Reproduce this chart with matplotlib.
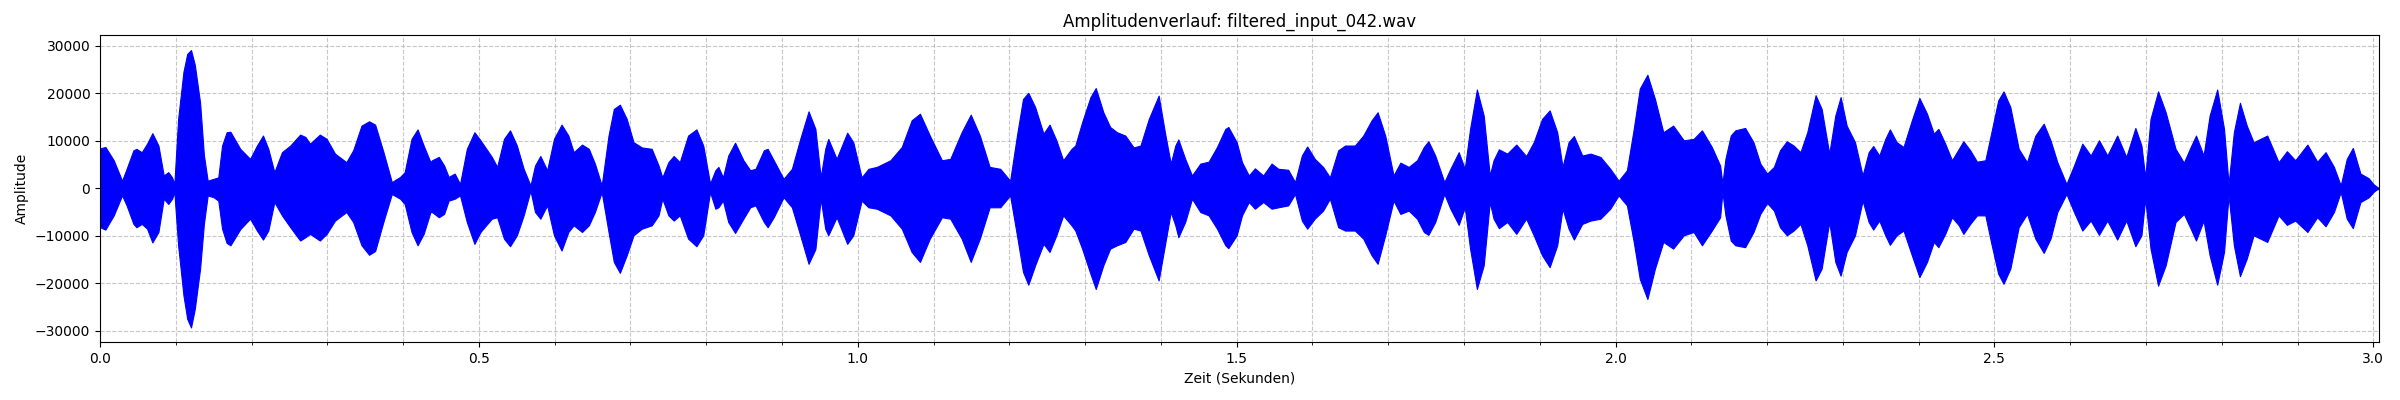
import matplotlib
matplotlib.use("Agg")
import matplotlib.pyplot as plt
from matplotlib.ticker import MultipleLocator
import numpy as np

# Envelope of the waveform (time in s, amplitude in thousands)
time_s = [
    0.000, 0.007, 0.018, 0.029, 0.035, 0.044, 0.048, 0.055, 0.062, 0.069,
    0.077, 0.084, 0.090, 0.095, 0.098, 0.103, 0.110, 0.115, 0.120, 0.125,
    0.132, 0.137, 0.142, 0.150, 0.156, 0.161, 0.167, 0.172, 0.185, 0.198,
    0.207, 0.215, 0.222, 0.230, 0.240, 0.251, 0.264, 0.271, 0.277, 0.290,
    0.299, 0.310, 0.325, 0.334, 0.345, 0.355, 0.363, 0.374, 0.385, 0.396,
    0.402, 0.411, 0.419, 0.427, 0.436,
    0.438, 0.447, 0.454, 0.460, 0.468, 0.475, 0.484, 0.494, 0.502, 0.511,
    0.517, 0.524, 0.533, 0.541, 0.550, 0.559, 0.568, 0.574, 0.581, 0.590,
    0.599, 0.609, 0.618, 0.625, 0.636, 0.645, 0.653, 0.662, 0.671, 0.678,
    0.686, 0.695, 0.704, 0.715, 0.728, 0.737, 0.742, 0.750, 0.757, 0.765,
    0.776, 0.787, 0.796, 0.805, 0.812, 0.816, 0.822, 0.829, 0.838, 0.849,
    0.858,
    0.865, 0.876, 0.881, 0.889, 0.902, 0.913, 0.924, 0.935, 0.944, 0.951,
    0.957, 0.961, 0.972, 0.986, 0.994, 1.005, 1.014, 1.025, 1.043, 1.058,
    1.071, 1.082, 1.095, 1.111, 1.122, 1.137, 1.149, 1.161, 1.174, 1.188,
    1.201, 1.210, 1.218, 1.225, 1.234, 1.245, 1.253, 1.262, 1.271, 1.282,
    1.287, 1.296, 1.307, 1.314, 1.324, 1.333, 1.342, 1.353, 1.364, 1.373,
    1.384, 1.397, 1.406, 1.413, 1.419, 1.423, 1.432, 1.441, 1.452, 1.463,
    1.474, 1.485, 1.489, 1.500, 1.507, 1.516, 1.524, 1.535, 1.546, 1.555,
    1.568, 1.577, 1.586, 1.593, 1.603, 1.614, 1.623, 1.634, 1.643, 1.656,
    1.667, 1.678, 1.686, 1.696, 1.707,
    1.716, 1.727, 1.738, 1.747, 1.753, 1.762, 1.774, 1.782, 1.793, 1.801,
    1.808, 1.817, 1.826, 1.834, 1.839, 1.846, 1.857, 1.869, 1.882, 1.892,
    1.903, 1.913, 1.923, 1.930, 1.938, 1.945, 1.956, 1.967, 1.980, 1.993,
    2.004, 2.015, 2.024, 2.032, 2.042, 2.052, 2.063, 2.076, 2.090, 2.103,
    2.114, 2.127, 2.138, 2.141,
    2.145, 2.152, 2.158, 2.171, 2.182, 2.191, 2.200, 2.209, 2.217, 2.226,
    2.235, 2.244, 2.253, 2.264, 2.272, 2.282, 2.290, 2.297, 2.305, 2.316,
    2.326, 2.334, 2.340, 2.348, 2.356, 2.362, 2.371, 2.380, 2.391, 2.401,
    2.411, 2.420, 2.426, 2.435, 2.444, 2.453, 2.459, 2.468, 2.477, 2.488,
    2.496, 2.505, 2.512, 2.521, 2.532, 2.543, 2.554, 2.565,
    2.574, 2.583, 2.595, 2.605, 2.616, 2.627, 2.638, 2.649, 2.662, 2.674,
    2.686, 2.694, 2.699, 2.706, 2.716, 2.726, 2.739, 2.750, 2.759, 2.766,
    2.776, 2.784, 2.794, 2.803, 2.809, 2.816, 2.824, 2.833, 2.842, 2.851,
    2.860, 2.875, 2.886, 2.897, 2.913, 2.926, 2.937, 2.948, 2.957, 2.965,
    2.973, 2.983, 2.994, 3.000, 3.004, 3.007,
]

upper_k = [
    8.4, 8.7, 5.9, 1.6, 4.1, 8.0, 8.3, 7.6, 9.4, 11.6,
    9.0, 2.7, 3.4, 2.3, 0.9, 14.6, 24.5, 28.3, 29.1, 26.0,
    18.0, 7.0, 1.6, 2.0, 2.3, 9.0, 11.8, 11.9, 8.3, 6.2,
    9.0, 11.1, 8.3, 3.4, 7.6, 9.0, 11.3, 10.8, 9.4, 11.3,
    10.4, 7.3, 5.5, 8.0, 13.2, 14.1, 13.4, 7.6, 1.3, 2.4,
    3.4, 10.4, 12.4, 9.0, 5.5,
    5.9, 6.6, 4.8, 2.4, 3.1, 0.9, 8.3, 11.8, 10.1, 8.0,
    6.6, 4.5, 10.4, 12.2, 9.0, 4.1, 0.6, 4.8, 6.8, 3.8,
    10.4, 13.4, 11.1, 7.6, 9.2, 8.3, 5.2, 0.6, 11.1, 16.7,
    17.6, 14.6, 9.7, 8.6, 8.3, 4.8, 2.3, 5.5, 6.8, 5.5,
    11.1, 12.4, 9.0, 1.0, 3.8, 4.5, 2.3, 6.9, 9.6, 5.9,
    3.8,
    4.1, 8.0, 8.3, 5.9, 2.0, 4.1, 10.4, 16.2, 12.5, 2.3,
    8.3, 10.4, 6.2, 11.7, 9.7, 2.3, 4.1, 4.5, 5.9, 8.7,
    14.3, 15.7, 11.1, 5.9, 6.2, 11.8, 15.5, 11.1, 4.5, 4.1,
    1.6, 11.1, 18.8, 20.1, 17.1, 11.5, 13.4, 10.1, 5.9, 8.3,
    9.0, 13.9, 19.2, 21.1, 16.0, 12.9, 11.8, 11.1, 8.6, 9.0,
    14.6, 19.5, 11.1, 5.2, 9.0, 10.3, 6.2, 2.7, 5.2, 5.6,
    8.7, 12.5, 12.9, 9.7, 5.5, 2.7, 4.2, 2.7, 5.2, 4.1,
    3.9, 1.3, 6.9, 8.8, 6.2, 4.5, 2.3, 8.0, 9.0, 9.0,
    11.1, 14.3, 16.0, 11.1, 2.7,
    5.4, 4.5, 5.9, 8.7, 9.9, 6.9, 1.3, 4.1, 7.6, 4.1,
    12.5, 20.8, 15.3, 2.7, 5.9, 8.2, 7.3, 9.2, 6.8, 9.7,
    14.6, 16.4, 11.8, 4.5, 9.7, 11.0, 6.9, 7.3, 6.6, 4.1,
    1.6, 3.8, 12.5, 21.0, 23.9, 18.8, 11.8, 13.2, 10.1, 10.4,
    12.2, 8.7, 4.8, 1.0,
    6.2, 11.1, 12.2, 12.7, 9.7, 5.2, 3.1, 4.5, 8.0, 9.9,
    9.0, 7.6, 11.8, 19.6, 16.7, 7.3, 15.3, 19.2, 13.2, 9.7,
    2.7, 7.6, 8.9, 6.9, 10.4, 12.4, 9.7, 8.7, 14.3, 19.0,
    15.7, 11.5, 12.5, 9.4, 5.9, 8.3, 9.9, 8.0, 5.6, 5.9,
    11.8, 18.5, 20.4, 17.1, 8.3, 5.5, 11.1, 13.6,
    10.1, 5.5, 0.9, 4.8, 9.4, 6.9, 10.1, 6.9, 11.1, 6.6,
    12.7, 9.0, 2.3, 14.6, 20.4, 16.0, 8.3, 5.4, 8.7, 11.1,
    6.9, 15.3, 20.8, 12.5, 0.9, 11.8, 18.0, 13.2, 9.7, 10.4,
    11.1, 5.5, 7.8, 5.9, 9.2, 5.6, 7.6, 4.5, 0.6, 6.2,
    8.5, 3.1, 2.1, 0.9, 0.4, 0.1,
]

lower_k = [
    -8.2, -8.7, -5.7, -1.5, -3.6, -7.5, -8.2, -7.5, -8.5, -11.4,
    -9.2, -2.2, -3.3, -2.2, -0.8, -12.0, -22.5, -27.5, -29.3, -25.4,
    -16.9, -7.5, -1.5, -1.9, -2.6, -8.5, -11.5, -12.0, -8.6, -6.4,
    -8.9, -10.8, -8.9, -2.9, -5.7, -8.2, -11.0, -10.3, -9.6, -11.0,
    -9.6, -6.8, -5.0, -7.1, -12.0, -14.0, -13.2, -7.0, -1.2, -2.2,
    -3.3, -9.2, -12.0, -9.6, -5.0,
    -5.0, -6.1, -5.4, -2.6, -2.2, -1.5, -7.1, -11.7, -9.2, -7.5,
    -6.4, -6.1, -10.6, -12.2, -9.9, -5.7, -0.5, -5.0, -6.4, -3.6,
    -9.9, -13.1, -9.2, -7.8, -9.2, -7.8, -5.0, -0.8, -9.2, -15.5,
    -17.8, -14.1, -9.9, -8.5, -7.8, -5.7, -2.2, -5.7, -6.8, -5.7,
    -10.6, -12.2, -9.9, -0.8, -4.3, -4.0, -2.6, -7.1, -9.4, -6.4,
    -4.0,
    -3.6, -7.1, -8.2, -6.1, -1.9, -4.0, -9.9, -15.9, -12.8, -2.2,
    -8.5, -9.9, -6.1, -11.7, -9.9, -2.6, -4.0, -4.3, -5.7, -8.5,
    -13.4, -15.5, -10.6, -6.1, -6.4, -10.6, -15.5, -10.6, -4.0, -4.0,
    -1.5, -9.9, -17.6, -20.3, -16.2, -11.7, -13.4, -9.9, -5.7, -7.8,
    -8.9, -12.7, -18.0, -21.2, -16.2, -12.7, -12.0, -11.3, -8.5, -8.9,
    -14.1, -19.4, -11.3, -5.0, -7.8, -10.3, -7.1, -2.2, -5.0, -5.7,
    -8.5, -12.0, -12.6, -9.9, -5.7, -2.9, -4.3, -2.9, -4.3, -4.0,
    -3.6, -1.2, -6.8, -8.5, -6.4, -4.7, -2.2, -8.2, -8.9, -8.9,
    -10.6, -14.1, -15.9, -9.9, -2.6,
    -5.4, -4.7, -6.4, -9.2, -9.8, -7.1, -1.2, -4.3, -7.7, -4.0,
    -12.7, -21.2, -16.2, -2.9, -6.4, -8.4, -7.1, -9.6, -6.4, -9.9,
    -14.1, -16.6, -12.0, -4.3, -8.5, -10.8, -7.5, -6.8, -6.4, -4.3,
    -1.5, -3.6, -11.3, -19.1, -23.3, -16.9, -11.3, -12.7, -9.9, -9.2,
    -12.0, -8.9, -6.1, -0.8,
    -5.7, -11.0, -12.0, -12.4, -9.2, -5.4, -3.1, -4.7, -8.2, -9.9,
    -8.9, -7.5, -12.0, -19.4, -16.9, -7.1, -15.5, -18.4, -13.4, -9.9,
    -2.6, -7.1, -8.7, -6.8, -9.9, -11.9, -9.9, -8.9, -14.1, -18.7,
    -15.5, -11.3, -12.4, -9.6, -6.1, -7.8, -9.6, -7.5, -5.7, -5.7,
    -11.7, -18.0, -20.1, -16.9, -8.2, -5.4, -10.6, -13.6,
    -10.6, -5.0, -1.2, -5.0, -8.9, -6.8, -9.8, -6.8, -10.8, -6.8,
    -12.2, -9.9, -2.2, -12.7, -20.5, -16.2, -7.1, -5.4, -8.5, -11.0,
    -6.8, -14.1, -20.3, -13.4, -1.5, -12.0, -18.5, -14.8, -9.9, -10.6,
    -11.3, -5.7, -7.7, -6.8, -9.2, -6.1, -8.0, -5.0, -0.8, -6.4,
    -8.4, -2.9, -1.9, -0.8, -0.3, -0.1,
]

title = "Amplitudenverlauf: filtered_input_042.wav"

t = np.array(time_s)
upper = np.array(upper_k) * 1000
lower = np.array(lower_k) * 1000

fig, ax = plt.subplots(figsize=(24, 4), dpi=100)
fig.subplots_adjust(left=0.0417, right=0.9914, top=0.9125, bottom=0.145)

ax.fill_between(t, lower, upper, color="blue", linewidth=0.8, edgecolor="blue")

ax.set_xlim(0, 3.008)
ax.set_ylim(-32360, 32270)
ax.xaxis.set_major_locator(MultipleLocator(0.5))
ax.xaxis.set_minor_locator(MultipleLocator(0.1))
ax.grid(True, which="both", linestyle="--", alpha=0.7)
ax.set_axisbelow(True)

ax.set_title(title)
ax.set_xlabel("Zeit (Sekunden)")
ax.set_ylabel("Amplitude")

fig.savefig("out.png", dpi=100)
